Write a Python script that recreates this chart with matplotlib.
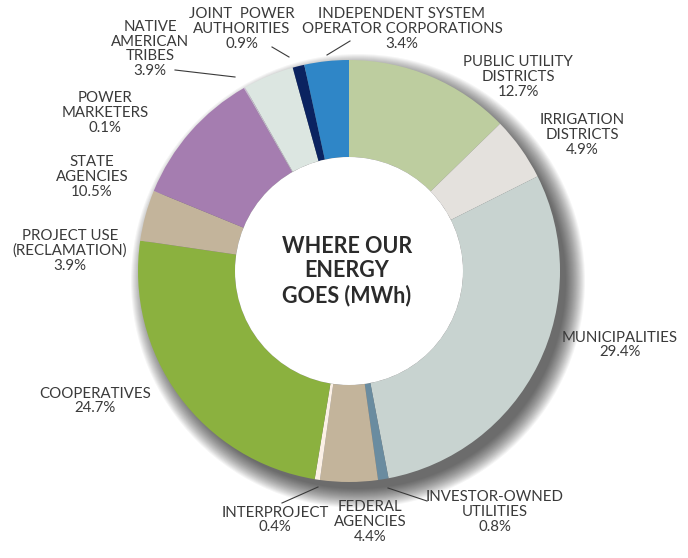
import matplotlib
matplotlib.use('agg')
import matplotlib.pyplot as plt
from matplotlib.patches import Circle

plt.rcParams['font.family'] = ['Lato', 'DejaVu Sans']

# shares, clockwise from 12 o'clock
labels = ['PUBLIC UTILITY\nDISTRICTS', 'IRRIGATION\nDISTRICTS', 'MUNICIPALITIES',
          'INVESTOR-OWNED\nUTILITIES', 'FEDERAL\nAGENCIES', 'INTERPROJECT',
          'COOPERATIVES', 'PROJECT USE\n(RECLAMATION)', 'STATE\nAGENCIES',
          'POWER\nMARKETERS', 'NATIVE\nAMERICAN\nTRIBES', 'JOINT  POWER\nAUTHORITIES',
          'INDEPENDENT SYSTEM\nOPERATOR CORPORATIONS']
shares = [12.7, 4.9, 29.4, 0.8, 4.4, 0.4, 24.7, 3.9, 10.5, 0.1, 3.9, 0.9, 3.4]
colors = ['#bdcd9f', '#e4e1dd', '#c8d3d0', '#6a8ca0', '#c3b49b', '#fbf0e6',
          '#8bb13f', '#c3b49b', '#a57db0', '#c9b8d2', '#dce6e1', '#0b2360',
          '#2f86c7']

# label anchor (pixel coords, y from top)
label_pos = [(518, 77), (582, 135), (620, 345), (495, 512), (370, 522),
             (275, 520), (95, 401), (70, 251), (92, 177), (105, 113),
             (150, 49), (242, 29), (402, 29)]
leaders = {3: ((388, 488), (427, 501)), 5: ((318, 487), (282, 503)),
           10: ((235, 77), (175, 70)), 11: ((289, 57), (272, 47)),
           12: ((327, 55), (350, 41))}

W, H = 688, 558
cx, cy, R, r_in = 349, 271, 211, 114

fig = plt.figure(figsize=(W / 100, H / 100), dpi=100)
ax = fig.add_axes([0, 0, 1, 1])

# soft drop shadow
for i in range(20):
    ax.add_patch(Circle((cx + 9, H - cy - 10), R + 16 - i * 1.0, color='#000000',
                        alpha=0.04, lw=0, zorder=0))

ax.pie(shares, colors=colors, startangle=90, counterclock=False,
       radius=R, center=(cx, H - cy),
       wedgeprops=dict(width=R - r_in, edgecolor='none', linewidth=0))
ax.add_patch(Circle((cx, H - cy), r_in, color='white', lw=0, zorder=5))

ax.text(cx - 2, H - 271, 'WHERE OUR\nENERGY\nGOES (MWh)', ha='center', va='center',
        fontsize=15.5, fontweight='bold', color='#2b2b2b', linespacing=1.2, zorder=6)

for lab, v, (x, y) in zip(labels, shares, label_pos):
    ax.text(x, H - y, f'{lab}\n{v}%', ha='center', va='center', fontsize=10.8,
            color='#3a3a3a', linespacing=1.05)

for (x0, y0), (x1, y1) in leaders.values():
    ax.plot([x0, x1], [H - y0, H - y1], color='#3a3a3a', lw=0.8)

ax.set_xlim(0, W)
ax.set_ylim(0, H)
ax.set_aspect('equal')
ax.axis('off')

fig.savefig('out.png', dpi=100, facecolor='white')
